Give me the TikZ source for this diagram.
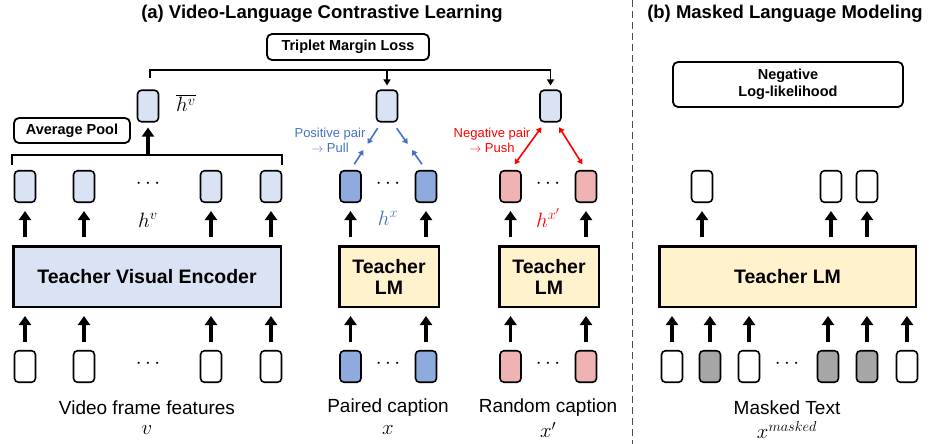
\documentclass[tikz,border=0pt]{standalone}
\usepackage{fontspec}
\setmainfont{Liberation Sans}
\usetikzlibrary{arrows.meta,calc}

\definecolor{lblue}{HTML}{DAE3F3}
\definecolor{mblue}{HTML}{8FAADC}
\definecolor{tblue}{HTML}{4472C4}
\definecolor{lpink}{HTML}{EFB3B3}
\definecolor{lyellow}{HTML}{FFF2CC}
\definecolor{mgray}{HTML}{A6A6A6}

\tikzset{
	title/.style={font=\fontsize{18.5}{22}\selectfont\bfseries},
	cube/.style={draw, line width=1.6pt, rounded corners=4pt, minimum width=21pt, minimum height=31.5pt, inner sep=0pt},
	encbox/.style={draw, line width=2.5pt, minimum height=60.5pt, align=center, font=\fontsize{19.5}{21}\selectfont\bfseries},
	lossbox/.style={draw, line width=1.8pt, rounded corners=5pt, align=center, font=\fontsize{14.5}{17}\selectfont\bfseries},
	bigup/.style={-{Triangle[width=12pt,length=9pt]}, line width=3.6pt, shorten <=8pt, shorten >=8pt},
	tiparrow/.style={-{Triangle[width=7pt,length=6pt]}, line width=1.8pt, shorten >=4pt},
	pull/.style={-{Triangle[width=6pt,length=5pt]}, line width=1.6pt, tblue},
	push/.style={{Triangle[width=6pt,length=5pt]}-{Triangle[width=6pt,length=5pt]}, line width=1.6pt, red},
	dots/.style={font=\fontsize{22}{22}\selectfont},
	mathlab/.style={font=\fontsize{21}{24}\selectfont},
	caption/.style={font=\fontsize{19}{22}\selectfont},
	small/.style={font=\fontsize{13}{15}\selectfont, align=center},
	sepline/.style={dash pattern=on 7pt off 4pt, line width=1pt, black!70}
}

\begin{document}
\begin{tikzpicture}[x=1pt, y=-1pt]
	\useasboundingbox (0,0) rectangle (932,444);
	%titles
	\node (titleA) at (322,14) [title]{(a) Video-Language Contrastive Learning};
	\node (titleB) at (785,14) [title]{(b) Masked Language Modeling};
	\draw[sepline] (632,0) -- (632,444);
	
	%encoders
	\node (enc) at (147,276.5) [encbox, fill=lblue, minimum width=267.5pt]{Teacher Visual Encoder};
	\node (lmA) at (389,276.5) [encbox, fill=lyellow, minimum width=99.5pt]{Teacher\\LM};
	\node (lmB) at (549,276.5) [encbox, fill=lyellow, minimum width=99.5pt]{Teacher\\LM};
	\node (lmC) at (787.5,276.5) [encbox, fill=lyellow, minimum width=256.5pt]{Teacher LM};
	
	%video frames
	\foreach \x [count=\i] in {25, 84, 211, 271}{
		\node (hv\i) at (\x,186.5) [cube, fill=lblue]{};
		\node (v\i) at (\x,366.5) [cube]{};
		\draw[bigup] (hv\i.south |- enc.north) -- (hv\i.south);
		\draw[bigup] (v\i.north) -- (v\i.north |- enc.south);
	}
	\node (hvdots) at (148,184) [dots]{$\cdots$};
	\node (vdots) at (148,364) [dots]{$\cdots$};
	\node (hvlab) at (148,220) [mathlab]{$h^v$};
	\node (vcap) at (147,408) [caption]{Video frame features};
	\node (vmath) at (147,430) [mathlab]{$v$};
	
	%paired and random captions
	\foreach \x [count=\i] in {350.5, 426}{
		\node (hx\i) at (\x,186.5) [cube, fill=mblue]{};
		\node (x\i) at (\x,366.5) [cube, fill=mblue]{};
		\draw[bigup] (hx\i.south |- lmA.north) -- (hx\i.south);
		\draw[bigup] (x\i.north) -- (x\i.north |- lmA.south);
	}
	\foreach \x [count=\i] in {510.5, 586}{
		\node (hr\i) at (\x,186.5) [cube, fill=lpink]{};
		\node (r\i) at (\x,366.5) [cube, fill=lpink]{};
		\draw[bigup] (hr\i.south |- lmB.north) -- (hr\i.south);
		\draw[bigup] (r\i.north) -- (r\i.north |- lmB.south);
	}
	\node (hxdots) at (388,184) [dots]{$\cdots$};
	\node (xdots) at (388,364) [dots]{$\cdots$};
	\node (hrdots) at (548,184) [dots]{$\cdots$};
	\node (rdots) at (548,364) [dots]{$\cdots$};
	\node (hxlab) at (388,218) [mathlab, text=tblue]{$h^x$};
	\node (hrlab) at (548,218) [mathlab, text=red]{$h^{x'}$};
	\node (xcap) at (388,408) [caption]{Paired caption};
	\node (rcap) at (548,408) [caption]{Random caption};
	\node (xmath) at (388,430) [mathlab]{$x$};
	\node (rmath) at (548,430) [mathlab]{$x'$};
	
	%pooled and triplet loss
	\node (avgpool) at (72,130.5) [lossbox, minimum width=116pt, minimum height=25pt]{Average Pool};
	\node (hbar) at (148,106) [cube, fill=lblue]{};
	\node (hbarlab) at (186,103) [mathlab]{$\overline{h^v}$};
	\node (posT) at (387,106) [cube, fill=lblue]{};
	\node (negT) at (550.5,106) [cube, fill=lblue]{};
	\node (tml) at (348,47) [lossbox, minimum width=162pt, minimum height=26pt]{Triplet Margin Loss};
	
	\coordinate (apL) at (12,165);
	\coordinate (apR) at (282,165);
	\coordinate (apM) at (148,155);
	\draw[line width=2.2pt] (apL) -- ++(0,-10) -| (apR);
	\draw[bigup, shorten <=0pt, shorten >=5pt] (apM) -- (hbar.south);
	
	\coordinate (tmL) at (150,78);
	\coordinate (tmbar) at (0,70);
	\draw[tiparrow] (tmL) -- ++(0,-8) -| (negT.north);
	\draw[tiparrow] (posT.north |- tmbar) -- (posT.north);
	
	%pull and push
	\coordinate (pA) at ($(posT.south)!0.5!(posT.south west)$);
	\coordinate (pB) at ($(posT.south)!0.5!(posT.south east)$);
	\draw[pull] ($(pA)!0.12!(hx1.north)$) -- ($(pA)!0.45!(hx1.north)$);
	\draw[pull] ($(pA)!0.88!(hx1.north)$) -- ($(pA)!0.58!(hx1.north)$);
	\draw[pull] ($(pB)!0.12!(hx2.north)$) -- ($(pB)!0.45!(hx2.north)$);
	\draw[pull] ($(pB)!0.88!(hx2.north)$) -- ($(pB)!0.58!(hx2.north)$);
	\node (poslab) at (330,140) [small, text=tblue]{Positive pair\\$\rightarrow$ Pull};
	
	\coordinate (nA) at ($(negT.south)!0.5!(negT.south west)$);
	\coordinate (nB) at ($(negT.south)!0.5!(negT.south east)$);
	\draw[push] ($(nA)!0.1!(hr1.north)$) -- ($(nA)!0.88!(hr1.north)$);
	\draw[push] ($(nB)!0.1!(hr2.north)$) -- ($(nB)!0.88!(hr2.north)$);
	\node (neglab) at (492,140) [small, text=red]{Negative pair\\$\rightarrow$ Push};
	
	%masked language modeling
	\node (nll) at (788,84.5) [lossbox, minimum width=230pt, minimum height=45pt]{Negative\\Log-likelihood};
	\foreach \x [count=\i] in {702, 831, 867}{
		\node (o\i) at (\x,186.5) [cube]{};
		\draw[bigup] (o\i.south |- lmC.north) -- (o\i.south);
	}
	\foreach \x/\c [count=\i] in {672/white, 710/mgray, 749/white, 828/mgray, 867/mgray, 907/white}{
		\node (m\i) at (\x,366.5) [cube, fill=\c]{};
		\draw[bigup] (m\i.north) -- (m\i.north |- lmC.south);
	}
	\node (mdots) at (787,364) [dots]{$\cdots$};
	\node (mcap) at (787,408) [caption]{Masked Text};
	\node (mmath) at (787,430) [mathlab]{$x^{masked}$};
\end{tikzpicture}
\end{document}
